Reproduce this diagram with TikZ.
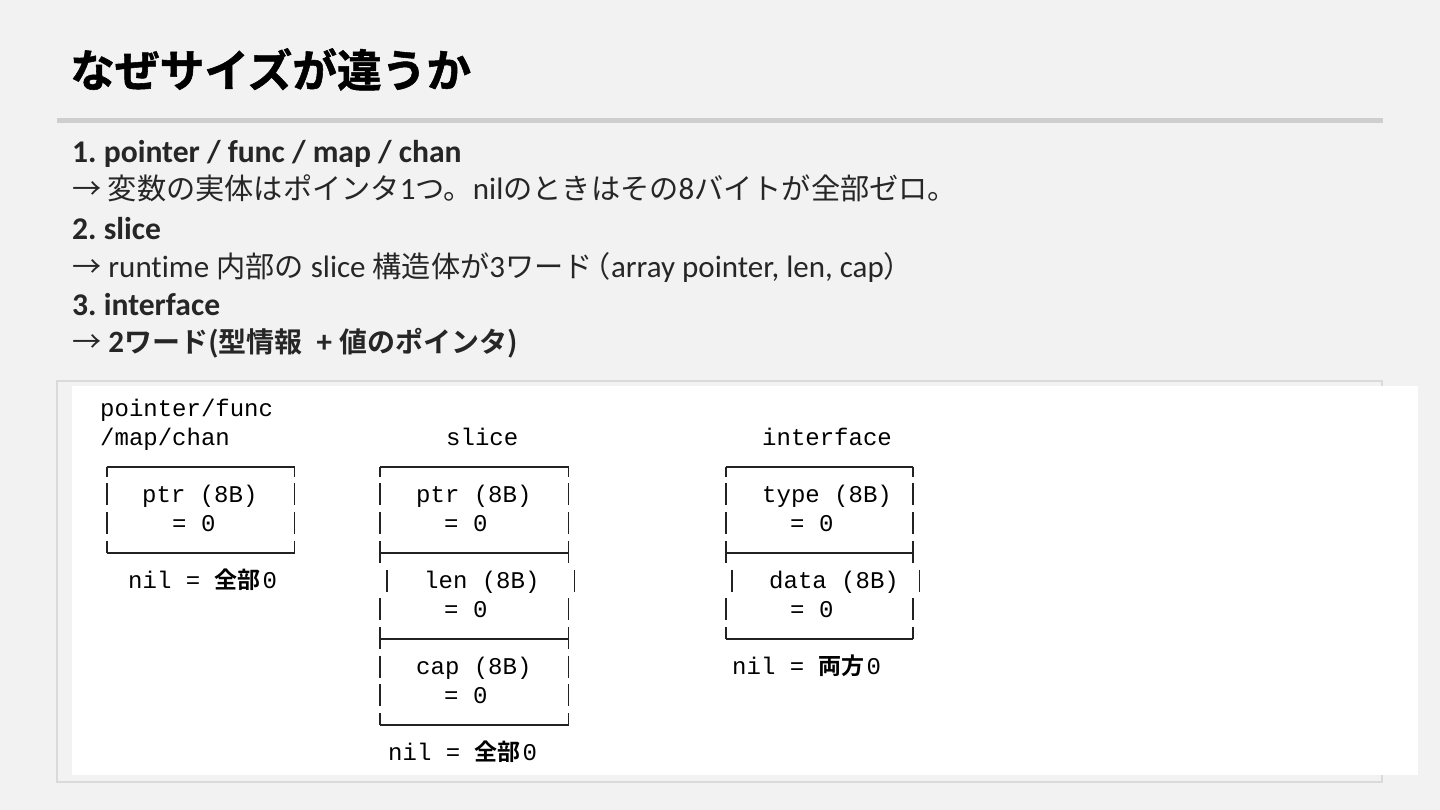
\documentclass[tikz,border=0pt]{standalone}
\usepackage{fontspec}
\setmainfont{Carlito}[Ligatures={NoCommon}]
\newfontfamily\cjk{Noto Sans CJK JP}
\newfontfamily\cjkb{Noto Sans CJK JP Bold}
\newfontfamily\cjkt[FakeBold=1.2]{Noto Sans CJK JP Bold}
\newfontfamily\mono{Liberation Mono}
\definecolor{bg}{HTML}{F2F2F2}
\definecolor{rulecol}{HTML}{CECECE}
\definecolor{framecol}{HTML}{DADADA}
\definecolor{bodytext}{HTML}{262626}
\definecolor{boxline}{HTML}{222222}
\newcommand\J[1]{{\cjk\fontsize{29.2}{34}\selectfont #1}}
\newcommand\JB[1]{{\cjkb\fontsize{28}{34}\selectfont #1}}
\newcommand\MJ[1]{{\cjkb\fontsize{23}{28}\selectfont #1}}
\tikzset{
  headline/.style={anchor=base west, inner sep=0pt, text=bodytext, font=\fontsize{31.6}{36}\selectfont\bfseries},
  bodyline/.style={anchor=base west, inner sep=0pt, text=bodytext, font=\fontsize{31}{36}\selectfont},
  mtext/.style={anchor=base west, inner sep=0pt, text=black, font=\mono\fontsize{24}{28}\selectfont},
  bx/.style={draw=boxline, line width=1.6pt},
}
\frenchspacing
\begin{document}
\begin{tikzpicture}[x=1pt,y=-1pt]
\useasboundingbox (0,0) rectangle (1440,810);
\fill[bg] (0,0) rectangle (1440,810);
% title
\node[anchor=base west, inner sep=0pt, text=black] (title) at (70,87) {\cjkt\fontsize{44.7}{50}\selectfont なぜサイズが違うか};
\draw[rulecol, line width=5pt] (57,120.5) -- (1383,120.5);
% body lines
\node[headline] (l1) at (72,162.5) {1. pointer / func / map / chan};
\node[bodyline] (l2) at (72,199.5) {\J{→ 変数の実体はポインタ}1\J{つ。}nil\J{のときはその}8\J{バイトが全部ゼロ。}};
\node[headline] (l3) at (72,239.5) {2. slice};
\node[bodyline] (l4) at (72,277.5) {\J{→} runtime \J{内部の} slice \J{構造体が}3\J{ワード}\kern-11pt\J{（}array pointer, len, cap\J{）}};
\node[headline] (l5) at (72,315.5) {3. interface};
\node[bodyline] (l6) at (72,352.5) {\J{→} \textbf{2}\JB{ワード(型情報} \textbf{ + }\JB{値のポインタ)}};
% diagram panel
\draw[framecol, line width=2pt] (57,381) rectangle (1382,782);
\fill[white] (72,386) rectangle (1418,775);
\def\rr#1{\fpeval{466.7+28.7*(#1)}}
% headers
\node[mtext] (h1a) at (100,\rr{-2}+7) {pointer/func};
\node[mtext] (h1b) at (100,\rr{-1}+7) {/map/chan};
\node[mtext] (h2) at (446,\rr{-1}+7) {slice};
\node[mtext] (h3) at (762,\rr{-1}+7) {interface};
% box 1
\node[mtext] (p1) at (142,\rr{1}+7) {ptr (8B)};
\node[mtext] (p1v) at (172,\rr{2}+7) {= 0};
\node[mtext] (n1) at (128,\rr{4}+7) {nil = \MJ{全部}\kern2pt 0};
% slice
\node[mtext] (s1) at (416,\rr{1}+7) {ptr (8B)};
\node[mtext] (s1v) at (444,\rr{2}+7) {= 0};
\node[mtext] (s2) at (424,\rr{4}+7) {len (8B)};
\node[mtext] (s2v) at (444,\rr{5}+7) {= 0};
\node[mtext] (s3) at (416,\rr{7}+7) {cap (8B)};
\node[mtext] (s3v) at (444,\rr{8}+7) {= 0};
\node[mtext] (n2) at (388,\rr{10}+7) {nil = \MJ{全部}\kern2pt 0};
% interface
\node[mtext] (i1) at (762,\rr{1}+7) {type (8B)};
\node[mtext] (i1v) at (790,\rr{2}+7) {= 0};
\node[mtext] (i2) at (769,\rr{4}+7) {data (8B)};
\node[mtext] (i2v) at (790,\rr{5}+7) {= 0};
\node[mtext] (n3) at (732,\rr{7}+7) {nil = \MJ{両方}\kern2pt 0};
% ---- box lines
% box 1: rows 0..3
\foreach \xa/\xb in {106.7/294.5}{
  \draw[bx] (\xa,\rr{0}) -- (\xb,\rr{0});
  \draw[bx] (\xa,\rr{3}) -- (\xb,\rr{3});
  \foreach \xx in {\xa,\xb}{
    \draw[bx] (\xx,\rr{0}) -- (\xx,\rr{0}+10);
    \foreach \k in {1,2}{\draw[bx] (\xx,\rr{\k}-12) -- (\xx,\rr{\k}+10);}
    \draw[bx] (\xx,\rr{3}-12) -- (\xx,\rr{3});
  }
}
% slice: rows 0..9
\foreach \xa/\xb in {380/568.5}{
  \foreach \k in {0,3,6,9}{\draw[bx] (\xa,\rr{\k}) -- (\xb,\rr{\k});}
  \foreach \xx in {\xa,\xb}{
    \draw[bx] (\xx,\rr{0}) -- (\xx,\rr{0}+10);
    \foreach \k in {1,2,3,5,6,7,8}{\draw[bx] (\xx,\rr{\k}-12) -- (\xx,\rr{\k}+10);}
    \draw[bx] (\xx,\rr{9}-12) -- (\xx,\rr{9});
  }
  \draw[bx] (386.7,\rr{4}-12) -- (386.7,\rr{4}+10);
  \draw[bx] (574.5,\rr{4}-12) -- (574.5,\rr{4}+10);
}
% interface: rows 0..6
\foreach \xa/\xb in {726/912.7}{
  \foreach \k in {0,3,6}{\draw[bx] (\xa,\rr{\k}) -- (\xb,\rr{\k});}
  \foreach \xx in {\xa,\xb}{
    \draw[bx] (\xx,\rr{0}) -- (\xx,\rr{0}+10);
    \foreach \k in {1,2,3,5}{\draw[bx] (\xx,\rr{\k}-12) -- (\xx,\rr{\k}+10);}
    \draw[bx] (\xx,\rr{6}-12) -- (\xx,\rr{6});
  }
  \draw[bx] (731.7,\rr{4}-12) -- (731.7,\rr{4}+10);
  \draw[bx] (919.5,\rr{4}-12) -- (919.5,\rr{4}+10);
}
\end{tikzpicture}
\end{document}
